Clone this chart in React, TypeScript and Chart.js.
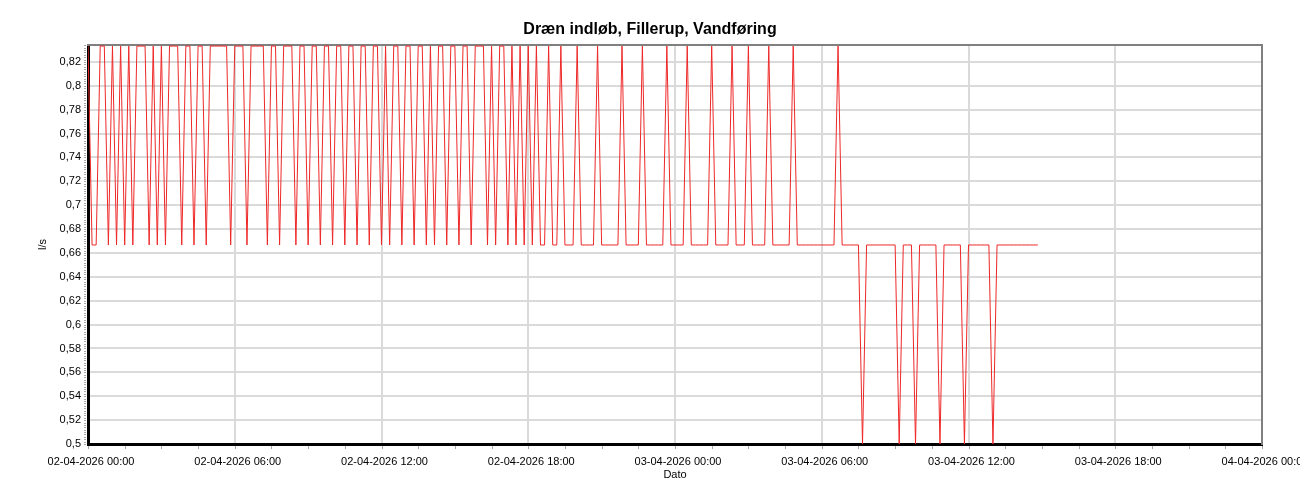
import React, { useEffect, useRef } from "react";
import { Chart, registerables } from "chart.js";

Chart.register(...registerables);

// Flow levels (l/s)
const H = 0.8333;
const M = 0.6667;
const L = 0.5;

// Samples every 10 minutes from 02-04-2026 00:00
const sampleStepMinutes = 10;
const values: number[] = [
  H, M, M, H, H, M, H, M, H, M, // 0-9
  H, M, H, H, H, M, H, M, H, M, // 10-19
  H, H, H, M, H, H, M, H, H, M, // 20-29
  H, H, H, H, H, M, H, H, H, M, // 30-39
  H, H, H, H, M, H, H, M, H, H, // 40-49
  H, M, H, H, M, H, H, M, H, H, // 50-59
  M, H, H, M, H, H, M, H, H, M, // 60-69
  H, H, M, H, M, H, H, M, H, H, // 70-79
  M, H, H, M, H, M, H, H, M, H, // 80-89
  H, M, H, H, M, H, H, H, M, H, // 90-99
  M, H, H, M, H, M, H, M, H, M, // 100-109
  H, M, M, H, M, M, H, M, M, M, // 110-119
  H, M, M, M, M, H, M, M, M, M, // 120-129
  M, H, M, M, M, M, H, M, M, M, // 130-139
  M, M, H, M, M, M, M, H, M, M, // 140-149
  M, M, M, H, M, M, M, M, H, M, // 150-159
  M, M, H, M, M, M, M, H, M, M, // 160-169
  M, M, M, H, M, M, M, M, M, M, // 170-179
  M, M, M, M, H, M, M, M, M, M, // 180-189
  L, M, M, M, M, M, M, M, M, L, // 190-199
  M, M, M, L, M, M, M, M, M, L, // 200-209
  M, M, M, M, M, L, M, M, M, M, // 210-219
  M, M, L, M, M, M, M, M, M, M, // 220-229
  M, M, M, M,                   // 230-233
];

const xTickMinutes = [0, 360, 720, 1080, 1440, 1800, 2160, 2520, 2880];
const xTickLabels = [
  "02-04-2026 00:00",
  "02-04-2026 06:00",
  "02-04-2026 12:00",
  "02-04-2026 18:00",
  "03-04-2026 00:00",
  "03-04-2026 06:00",
  "03-04-2026 12:00",
  "03-04-2026 18:00",
  "04-04-2026 00:00",
];
const yTicks = [0.5, 0.52, 0.54, 0.56, 0.58, 0.6, 0.62, 0.64, 0.66, 0.68, 0.7, 0.72, 0.74, 0.76, 0.78, 0.8, 0.82];

const X_MIN = 0;
const X_MAX = 2880;
const Y_MIN = 0.5;
const Y_MAX = 0.8342;

const FONT = "'Liberation Sans', Arial, sans-serif";

const fmt = (v: number) => Number(v).toFixed(2).replace(/0+$/, "").replace(/\.$/, "").replace(".", ",");

const minorTicksPlugin = {
  id: "minorTicks",
  afterDraw(chart: any) {
    const { ctx, chartArea } = chart;
    const x = chart.scales.x;
    const y = chart.scales.y;
    ctx.save();
    ctx.strokeStyle = "#a8a8a8";
    ctx.lineWidth = 1;
    for (let m = X_MIN; m <= X_MAX; m += 90) {
      const px = Math.round(x.getPixelForValue(m)) + 0.5;
      ctx.beginPath();
      ctx.moveTo(px, chartArea.bottom + 2);
      ctx.lineTo(px, chartArea.bottom + 5);
      ctx.stroke();
    }
    for (let i = 0; i <= 167; i++) {
      const v = Y_MIN + i * 0.002;
      const py = Math.round(y.getPixelForValue(v)) + 0.5;
      if (py < chartArea.top) break;
      ctx.beginPath();
      ctx.moveTo(chartArea.left - 2, py);
      ctx.lineTo(chartArea.left - 4, py);
      ctx.stroke();
    }
    ctx.restore();
  },
};

export default function App() {
  const ref = useRef<HTMLCanvasElement | null>(null);

  useEffect(() => {
    if (!ref.current) return;
    Chart.defaults.font.family = FONT;
    Chart.defaults.font.size = 11;
    Chart.defaults.color = "#000";

    const points = values.map((v, i) => ({ x: i * sampleStepMinutes, y: v }));

    const chart = new Chart(ref.current, {
      type: "line",
      data: {
        datasets: [
          {
            data: points,
            borderColor: "rgb(238,40,40)",
            borderWidth: 1,
            pointRadius: 0,
            tension: 0,
            fill: false,
          },
        ],
      },
      options: {
        animation: false,
        responsive: false,
        devicePixelRatio: 1,
        layout: { padding: 0 },
        plugins: {
          legend: { display: false },
          tooltip: { enabled: false },
          title: {
            display: true,
            text: "Dræn indløb, Fillerup, Vandføring",
            color: "#000",
            font: { family: FONT, size: 16, weight: "bold" },
            padding: { top: 20, bottom: 5.8 },
          },
        },
        scales: {
          x: {
            type: "linear",
            position: "bottom",
            min: X_MIN,
            max: X_MAX,
            afterBuildTicks: (s: any) => {
              s.ticks = xTickMinutes.map((v) => ({ value: v }));
            },
            afterFit: (s: any) => {
              s.height = 56;
              s.paddingLeft = 0;
              s.paddingRight = 0;
            },
            ticks: {
              autoSkip: false,
              maxRotation: 0,
              minRotation: 0,
              padding: 7,
              labelOffset: 3,
              color: "#000",
              font: { family: FONT, size: 11 },
              callback: (_v: any, i: number) => xTickLabels[i],
            },
            grid: {
              color: "#dadada",
              lineWidth: 2,
              drawTicks: true,
              tickLength: 4,
              tickColor: "rgba(0,0,0,0)",
            },
            border: { color: "#000", width: 3 },
            title: {
              display: true,
              text: "Dato",
              color: "#000",
              font: { family: FONT, size: 11 },
              padding: { top: 0, bottom: 18 },
            },
          },
          y: {
            type: "linear",
            position: "left",
            min: Y_MIN,
            max: Y_MAX,
            afterBuildTicks: (s: any) => {
              s.ticks = yTicks.map((v) => ({ value: v }));
            },
            afterFit: (s: any) => {
              s.width = 88;
              s.paddingTop = 0;
              s.paddingBottom = 0;
            },
            ticks: {
              padding: 2,
              color: "#000",
              font: { family: FONT, size: 11 },
              callback: (v: any) => fmt(Number(v)),
            },
            grid: {
              color: "#dadada",
              lineWidth: 2,
              drawTicks: true,
              tickLength: 5,
              tickColor: "rgba(0,0,0,0)",
            },
            border: { color: "#000", width: 3 },
            title: {
              display: true,
              text: "l/s",
              color: "#000",
              font: { family: FONT, size: 11 },
              padding: { top: 36, bottom: 0 },
            },
          },
          xTop: {
            type: "linear",
            position: "top",
            min: X_MIN,
            max: X_MAX,
            ticks: { display: false },
            grid: { display: false, drawTicks: false },
            border: { color: "#808080", width: 2 },
            afterFit: (s: any) => {
              s.height = 0;
              s.paddingLeft = 0;
              s.paddingRight = 0;
            },
          },
          yRight: {
            type: "linear",
            position: "right",
            min: Y_MIN,
            max: Y_MAX,
            ticks: { display: false },
            grid: { display: false, drawTicks: false },
            border: { color: "#808080", width: 2 },
            afterFit: (s: any) => {
              s.width = 38;
              s.paddingTop = 0;
              s.paddingBottom = 0;
            },
          },
        },
      } as any,
      plugins: [minorTicksPlugin],
    });

    return () => chart.destroy();
  }, []);

  return (
    <div style={{ position: "absolute", left: 0, top: 0, width: 1300, height: 500, background: "#fff" }}>
      <canvas ref={ref} width={1300} height={500} style={{ display: "block", width: 1300, height: 500 }} />
    </div>
  );
}
